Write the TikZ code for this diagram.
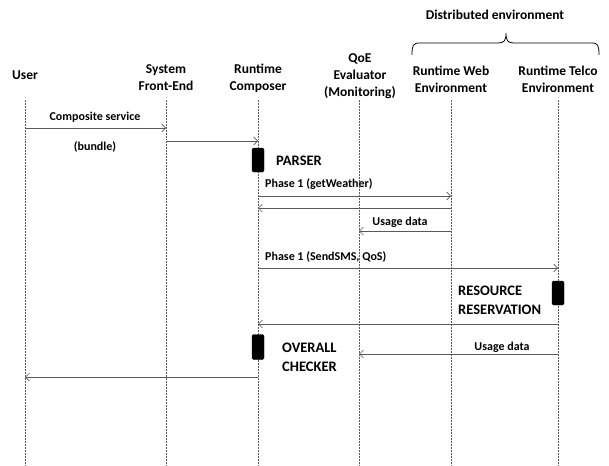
\documentclass[tikz,border=0pt]{standalone}
\usepackage{fontspec}
\setmainfont{Carlito}
\usetikzlibrary{arrows.meta}
\begin{document}
\begin{tikzpicture}[x=1pt,y=-1pt,
  hdr/.style={align=center,font=\bfseries\fontsize{13.5}{17}\selectfont,inner sep=0pt},
  lbl/.style={font=\bfseries\fontsize{12}{14}\selectfont,inner sep=0pt},
  big/.style={align=left,font=\bfseries\fontsize{14.5}{19}\selectfont,inner sep=0pt},
  life/.style={densely dotted,gray!70!black,line width=0.5pt},
  msg/.style={draw=black!65,line width=0.8pt,-{Straight Barb[length=4pt,width=8pt,line width=0.6pt]}},
  act/.style={fill=black,draw=black,rounded corners=1.5pt,minimum width=12pt,inner sep=0pt}]
\useasboundingbox (0,0) rectangle (609,465);
% headers
\node[hdr] (user) at (25,75) {User};
\node[hdr] (fe) at (166,78) {System\\Front-End};
\node[hdr] (rc) at (258,78) {Runtime\\Composer};
\node[hdr] (qoe) at (360,76) {QoE\\Evaluator\\(Monitoring)};
\node[hdr] (web) at (451,79) {Runtime Web\\Environment};
\node[hdr] (telco) at (558,79) {Runtime Telco\\Environment};
\node[hdr] (dist) at (495,15) {Distributed environment};
\draw[line width=0.8pt] (412,55) .. controls (412,45) and (413,43) .. (420,43) -- (498,43)
  .. controls (504,43) and (506,41) .. (506,33)
  .. controls (506,41) and (508,43) .. (514,43) -- (591,43)
  .. controls (598,43) and (599,45) .. (599,55);
% lifelines
\foreach \n/\x in {u/25,f/166,c/258,q/359,w/451,t/558}{
  \coordinate (\n0) at (\x,100);
  \coordinate (\n1) at (\x,465);
  \draw[life] (\n0) -- (\n1);
}
% messages
\draw[msg] (u0 |- 0,128) -- (f0 |- 0,128);
\node[lbl] (m1) at (95,117) {Composite service};
\node[lbl] (m1b) at (95,147) {(bundle)};
\draw[msg] (f0 |- 0,141) -- (c0 |- 0,141);
\node[act,minimum height=24pt] (a1) at (258,160) {};
\node[big,anchor=west] (parser) at (276,161) {PARSER};
\node[lbl,anchor=west] (m2) at (265,184) {Phase 1 (getWeather)};
\draw[msg] (c0 |- 0,196) -- (w0 |- 0,196);
\draw[msg] (w0 |- 0,208) -- (c0 |- 0,208);
\node[lbl] (m4) at (400,222) {Usage data};
\draw[msg] (w0 |- 0,231) -- (q0 |- 0,231);
\node[lbl,anchor=west] (m5) at (265,257) {Phase 1 (SendSMS, QoS)};
\draw[msg] (c0 |- 0,268) -- (t0 |- 0,268);
\node[act,minimum height=24pt] (a2) at (558,293) {};
\node[big,anchor=west] (rr) at (458,300) {RESOURCE\\RESERVATION};
\draw[msg] (t0 |- 0,324) -- (c0 |- 0,324);
\node[act,minimum height=25pt] (a3) at (258,347) {};
\node[big,anchor=west] (oc) at (282,357) {OVERALL\\CHECKER};
\node[lbl] (m7) at (502,347) {Usage data};
\draw[msg] (t0 |- 0,354) -- (q0 |- 0,354);
\draw[msg] (c0 |- 0,377) -- (u0 |- 0,377);
\end{tikzpicture}
\end{document}
